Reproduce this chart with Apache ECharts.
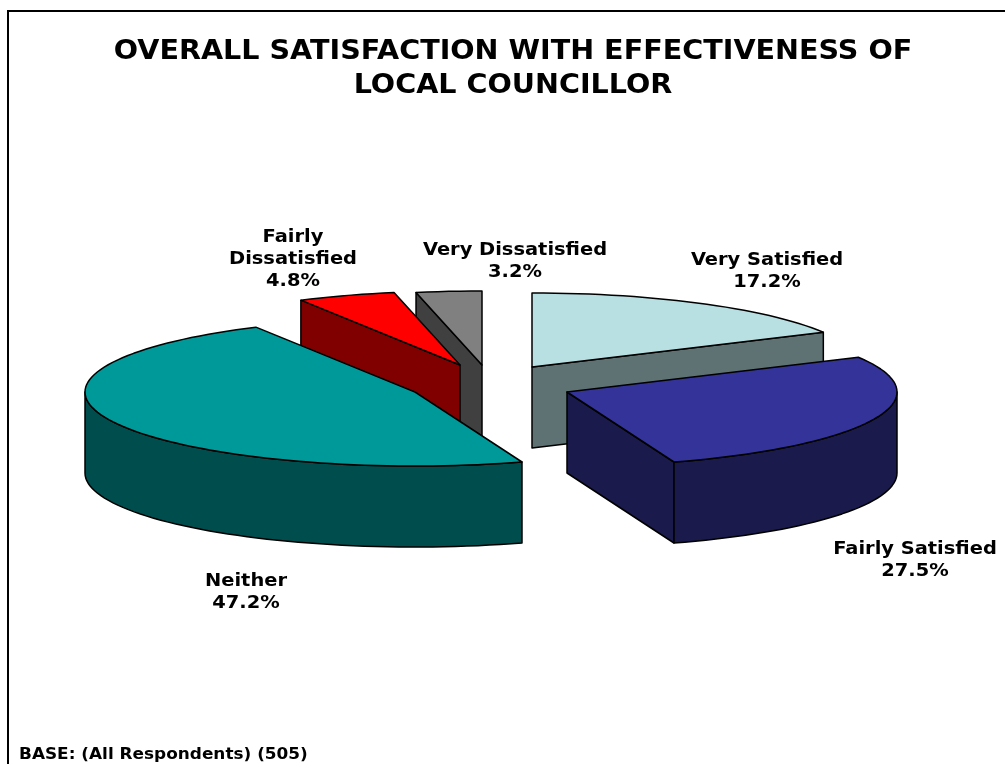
<!DOCTYPE html>
<html>
<head>
<meta charset="utf-8">
<title>Overall satisfaction</title>
<script src="https://cdn.jsdelivr.net/npm/echarts@6/dist/echarts.min.js"></script>
<style>
html, body { margin: 0; padding: 0; background: #fff; }
#chart { width: 1005px; height: 764px; }
</style>
</head>
<body>
<div id="chart"></div>
<script>
const titleText = 'OVERALL SATISFACTION WITH EFFECTIVENESS OF\nLOCAL COUNCILLOR'
const baseText = 'BASE: (All Respondents) (505)'
const categories = ['Very Satisfied', 'Fairly Satisfied', 'Neither', 'Fairly\nDissatisfied', 'Very Dissatisfied']
const values = [17.2, 27.5, 47.2, 4.8, 3.2]

// look of the slices, same order as categories
const topColors = ['#B8E0E3', '#333399', '#009999', '#FF0000', '#808080']
const sideColors = ['#5F7273', '#1A1A4D', '#004D4D', '#800000', '#404040']
const centers = [[532, 367], [567, 392], [415, 392], [460, 365], [482, 365]]
const labelCenters = [[767, 271], [915, 560], [246, 592], [293, 259], [515, 261]]
const drawOrder = [0, 4, 3, 1, 2]
const RX = 330
const RY = 74
const DEPTH = 81
const FONT = '"DejaVu Sans"'
// the reference font runs wider than DejaVu at the same height
const STRETCH = 1.11

const total = values.reduce((a, b) => a + b, 0)
const startAngles = []
values.reduce((sum, v, i) => {
  startAngles[i] = sum / total * 360
  return sum + v
}, 0)

const rimPoint = (center, deg, drop) => {
  const rad = deg * Math.PI / 180
  return [center[0] + RX * Math.sin(rad), center[1] - RY * Math.cos(rad) + drop]
}

const arcPoints = (center, from, to, drop) => {
  const pts = []
  const steps = Math.max(2, Math.ceil((to - from) / 2))
  for (let i = 0; i <= steps; i++) {
    pts.push(rimPoint(center, from + (to - from) * i / steps, drop))
  }
  return pts
}

const poly = (points, fill) => ({
  type: 'polygon',
  shape: { points },
  style: { fill, stroke: '#000', lineWidth: 1.5, lineJoin: 'round' }
})

// flat wall running from the centre out to the rim at one angle
const radialWall = (center, deg, fill) => {
  const rim = rimPoint(center, deg, 0)
  return poly([center, rim, [rim[0], rim[1] + DEPTH], [center[0], center[1] + DEPTH]], fill)
}

const renderSlice = (params, api) => {
  const i = api.value(0)
  const center = centers[i]
  const from = startAngles[i]
  const to = from + values[i] / total * 360
  const children = []

  // only the walls turned towards the viewer get drawn
  if (from >= 180) children.push(radialWall(center, from, sideColors[i]))
  if (to <= 180) children.push(radialWall(center, to, sideColors[i]))

  const wallFrom = Math.max(from, 90)
  const wallTo = Math.min(to, 270)
  if (wallFrom < wallTo) {
    const upper = arcPoints(center, wallFrom, wallTo, 0)
    const lower = arcPoints(center, wallFrom, wallTo, DEPTH).reverse()
    children.push(poly(upper.concat(lower), sideColors[i]))
  }

  children.push(poly([center].concat(arcPoints(center, from, to, 0)), topColors[i]))

  children.push({
    type: 'text',
    x: labelCenters[i][0],
    y: labelCenters[i][1],
    scaleX: STRETCH,
    style: {
      text: categories[i] + '\n' + values[i].toFixed(1) + '%',
      font: 'bold 17.5px ' + FONT,
      fill: '#000',
      align: 'center',
      verticalAlign: 'middle',
      lineHeight: 22
    }
  })
  return { type: 'group', children }
}

const myChart = echarts.init(document.getElementById('chart'), null, { renderer: 'canvas' })
myChart.setOption({
  animation: false,
  backgroundColor: '#fff',
  graphic: [
    {
      type: 'rect',
      shape: { x: 8, y: 11, width: 1100, height: 800 },
      style: { fill: 'none', stroke: '#000', lineWidth: 2 },
      silent: true
    },
    {
      type: 'text',
      x: 513,
      y: 69,
      scaleX: 1.1,
      style: {
        text: titleText,
        font: 'bold 26px ' + FONT,
        fill: '#000',
        align: 'center',
        verticalAlign: 'middle',
        lineHeight: 34
      }
    },
    {
      type: 'text',
      x: 19,
      y: 755,
      scaleX: 1.09,
      style: {
        text: baseText,
        font: 'bold 15.5px ' + FONT,
        fill: '#000',
        verticalAlign: 'middle'
      }
    }
  ],
  series: [{
    type: 'custom',
    coordinateSystem: 'none',
    renderItem: renderSlice,
    data: drawOrder.map((i) => [i])
  }]
})
</script>
</body>
</html>
